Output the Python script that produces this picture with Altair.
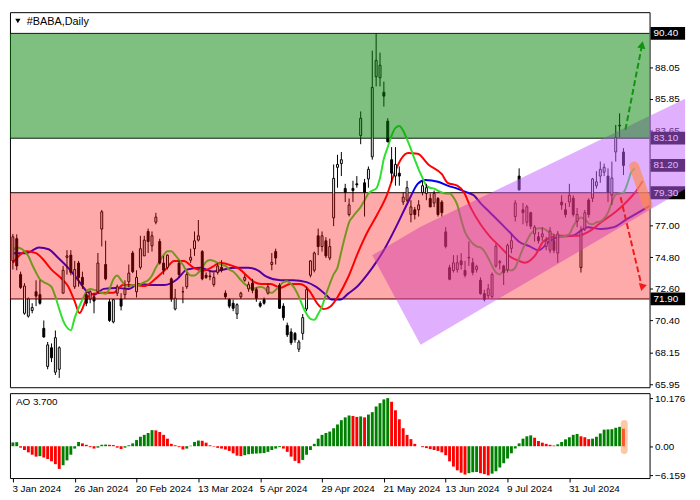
import altair as alt
import numpy as np
import pandas as pd

FONT = "Liberation Sans"

# ---------------- data ----------------
DATE_TICKS = [0, 16, 32, 48, 64, 80, 96, 112, 128, 144]
DATE_LABELS = ["3 Jan 2024", "26 Jan 2024", "20 Feb 2024", "13 Mar 2024", "5 Apr 2024",
               "29 Apr 2024", "21 May 2024", "13 Jun 2024", "9 Jul 2024", "31 Jul 2024"]

PRICE_TICKS = [65.95, 68.15, 70.40, 72.60, 74.80, 77.00, 81.45, 83.65, 85.85, 88.05]
ZONE_GREEN = [90.40, 83.10]
ZONE_RED = [79.30, 71.90]
LEVELS = [90.40, 83.10, 79.30, 71.90]
BOX_LEVELS = [90.40, 83.10, 81.20, 79.30, 71.90]

OPEN = [74.55, 76.1, 73.6, 70.9, 70.7, 71.1, 72.4, 72.2, 69.85, 67.2,
        68.5, 66.8, 67.0, 72.3, 74.8, 74.95, 72.75, 74.4, 73.4, 72.2,
        71.9, 72.05, 72.4, 76.77, 74.3, 71.7, 70.3, 72.3, 71.9, 72.2,
        73.1, 75.1, 72.4, 74.1, 74.9, 76.6, 75.6, 77.25, 75.9, 74.4,
        74.1, 73.3, 71.2, 74.4, 72.4, 72.75, 74.6, 75.4, 76.0, 75.2,
        73.55, 73.5, 72.9, 73.75, 74.1, 72.3, 71.85, 71.6, 70.85, 72.05,
        73.2, 72.6, 73.0, 72.55, 71.6, 71.85, 72.3, 74.3, 75.2, 72.85,
        71.4, 70.05, 69.6, 69.5, 68.4, 69.5, 71.2, 73.55, 73.9, 76.3,
        75.55, 75.95, 74.75, 77.55, 81.07, 81.33, 79.6, 77.78, 79.6, 79.92,
        83.28, 79.99, 80.26, 81.8, 87.38, 87.31, 86.3, 84.29, 81.6, 80.46,
        80.66, 78.65, 78.78, 77.78, 78.11, 78.11, 79.32, 79.25, 78.9, 78.58,
        78.9, 78.65, 76.57, 74.08, 73.88, 73.95, 74.55, 73.88, 74.75, 74.42,
        73.95, 73.2, 72.27, 72.13, 72.07, 74.2, 74.42, 74.2, 73.95, 75.42,
        77.64, 80.46, 78.11, 77.24, 77.91, 76.43, 76.23, 76.23, 75.56, 75.29,
        75.96, 75.09, 78.65, 78.11, 78.65, 78.92, 77.3, 74.08, 76.77, 78.78,
        78.92, 79.79, 80.46, 80.73, 80.46, 79.12, 82.14, 83.95, 82.14]
HIGH = [76.43, 76.4, 73.8, 73.0, 72.0, 71.6, 73.2, 73.2, 70.4, 68.9,
        68.8, 69.7, 68.6, 74.2, 75.3, 75.3, 74.55, 74.55, 73.8, 72.4,
        72.5, 72.3, 75.1, 78.1, 75.96, 71.9, 71.9, 72.9, 72.3, 73.2,
        74.3, 75.25, 73.9, 76.3, 76.3, 76.8, 76.6, 77.9, 76.1, 74.9,
        75.0, 73.4, 72.6, 74.6, 72.75, 73.75, 75.4, 76.6, 77.4, 75.3,
        73.75, 73.9, 73.75, 74.4, 74.6, 72.5, 71.95, 71.85, 71.6, 72.4,
        73.6, 73.1, 73.3, 72.7, 71.75, 72.0, 72.95, 75.1, 75.4, 73.0,
        71.6, 70.25, 69.85, 69.6, 69.05, 70.85, 72.75, 74.6, 75.2, 76.8,
        76.6, 76.2, 76.1, 81.27, 81.94, 82.14, 79.92, 78.9, 80.13, 80.46,
        84.96, 80.26, 81.13, 89.2, 90.4, 89.06, 87.04, 84.49, 82.48, 82.48,
        81.13, 79.32, 80.13, 78.78, 78.31, 78.78, 80.13, 79.92, 79.25, 79.45,
        79.0, 78.78, 76.9, 74.28, 74.95, 74.95, 75.09, 74.55, 75.9, 74.75,
        74.28, 73.4, 72.54, 72.94, 73.74, 75.76, 74.62, 74.28, 75.76, 76.43,
        78.78, 81.0, 78.58, 78.45, 77.98, 77.04, 76.57, 76.9, 76.23, 76.9,
        76.43, 76.63, 79.12, 78.58, 79.92, 79.12, 78.24, 76.97, 78.1, 78.92,
        80.33, 80.8, 81.47, 81.33, 81.0, 81.47, 84.02, 84.83, 82.41]
LOW = [73.95, 73.9, 72.6, 70.8, 70.6, 70.9, 71.4, 71.5, 69.2, 67.0,
       67.5, 66.6, 66.4, 72.3, 73.6, 73.55, 72.6, 72.75, 72.6, 71.4,
       71.6, 70.9, 72.3, 75.56, 73.2, 70.3, 70.2, 72.1, 71.1, 71.9,
       72.7, 73.7, 72.0, 73.95, 74.9, 75.1, 75.2, 77.1, 74.3, 73.6,
       73.95, 71.7, 71.1, 73.4, 71.6, 72.6, 74.4, 74.9, 75.9, 73.2,
       73.3, 73.2, 72.75, 73.6, 73.75, 71.9, 71.25, 71.05, 70.5, 71.9,
       73.1, 72.4, 72.3, 71.7, 71.3, 71.5, 72.2, 73.9, 74.3, 71.2,
       70.4, 69.25, 68.7, 68.85, 68.2, 69.05, 71.05, 73.4, 73.75, 74.95,
       75.2, 74.75, 74.6, 76.97, 79.65, 80.46, 78.65, 77.65, 78.65, 79.65,
       82.68, 77.64, 79.65, 81.6, 86.71, 86.71, 85.3, 82.81, 79.99, 79.79,
       79.79, 78.45, 78.65, 77.24, 77.44, 77.64, 79.12, 78.78, 78.3, 78.3,
       77.64, 77.64, 75.42, 73.2, 73.74, 73.74, 73.95, 73.4, 74.2, 73.55,
       73.74, 72.2, 71.73, 71.93, 71.93, 74.08, 73.95, 72.87, 73.74, 75.09,
       77.3, 79.45, 77.1, 76.97, 76.77, 75.9, 75.76, 75.96, 75.29, 75.09,
       75.09, 74.42, 78.11, 77.57, 78.31, 77.64, 76.9, 73.74, 76.63, 77.57,
       78.65, 79.59, 79.99, 80.46, 78.65, 78.45, 81.47, 83.15, 80.53]
CLOSE = [76.23, 74.2, 72.7, 72.8, 71.9, 71.3, 72.1, 71.6, 69.25, 68.7,
         67.8, 69.2, 68.5, 73.9, 74.9, 73.75, 73.95, 73.4, 72.9, 71.6,
         72.4, 71.75, 74.4, 77.97, 73.3, 70.4, 71.85, 72.75, 71.4, 72.6,
         73.7, 73.8, 73.4, 75.4, 76.0, 75.9, 76.3, 77.6, 74.4, 73.9,
         74.95, 71.9, 71.95, 73.6, 72.4, 73.6, 74.8, 75.95, 76.3, 73.3,
         73.4, 73.45, 73.4, 74.2, 73.9, 72.05, 71.4, 71.25, 71.5, 72.3,
         73.4, 72.9, 72.5, 71.95, 71.4, 71.6, 72.75, 74.45, 74.75, 71.25,
         70.6, 69.4, 68.85, 69.05, 68.9, 70.6, 72.55, 74.55, 75.1, 75.55,
         76.3, 74.9, 75.55, 80.3, 81.27, 81.6, 79.32, 78.45, 79.45, 79.85,
         84.49, 79.32, 80.93, 86.64, 88.52, 88.18, 86.03, 82.85, 80.66, 81.27,
         80.46, 78.99, 79.65, 78.31, 77.78, 78.45, 79.79, 79.65, 78.31, 79.25,
         77.78, 77.91, 75.56, 73.27, 74.42, 74.42, 74.28, 73.55, 74.8, 73.74,
         74.15, 72.27, 71.87, 72.6, 73.6, 75.56, 74.5, 73.74, 75.63, 75.96,
         78.58, 79.5, 77.91, 78.31, 76.97, 76.9, 75.96, 76.43, 75.96, 76.63,
         75.29, 76.43, 78.45, 77.78, 79.12, 77.78, 77.78, 76.63, 77.91, 77.78,
         80.26, 80.06, 80.93, 81.07, 79.32, 80.33, 83.15, 84.0, 81.2]

# Alligator lines (green = lips, red = teeth, blue = jaw), shifted past the last bar
LIPS = [75.29, 75.49, 75.42, 75.22, 74.89, 74.28, 73.74, 73.27, 73.07, 72.94,
        72.74, 72.06, 71.19, 70.39, 69.91, 69.71, 70.58, 71.26, 71.86, 72.40,
        72.60, 72.53, 72.47, 72.33, 72.26, 72.60, 73.27, 73.54, 73.21, 72.87,
        72.80, 72.87, 72.80, 72.94, 73.07, 73.21, 73.54, 74.08, 74.55, 74.95,
        75.22, 75.22, 74.95, 74.62, 74.28, 73.81, 73.54, 73.54, 73.74, 74.08,
        74.48, 74.62, 74.55, 74.41, 74.28, 74.21, 73.94, 73.81, 73.54, 73.21,
        72.94, 72.74, 72.60, 72.67, 72.74, 72.67, 72.40, 72.33, 72.53, 72.80,
        73.07, 73.14, 72.94, 72.60, 72.06, 71.39, 70.85, 70.52, 70.45, 70.85,
        71.39, 72.20, 72.94, 73.61, 74.08, 75.22, 76.30, 77.24, 77.64, 77.98,
        78.31, 78.78, 79.25, 79.45, 79.59, 80.33, 81.67, 82.47, 83.28, 83.82,
        83.95, 83.62, 83.01, 82.34, 81.60, 80.93, 80.33, 79.79, 79.65, 79.59,
        79.45, 79.32, 79.25, 79.25, 78.98, 78.45, 77.44, 76.56, 76.09, 75.76,
        75.56, 75.49, 75.22, 74.75, 74.21, 73.74, 73.61, 73.88, 73.94, 73.88,
        74.08, 74.75, 75.42, 75.96, 76.43, 76.70, 76.83, 76.83, 76.70, 76.50,
        76.36, 76.23, 76.23, 76.30, 76.43, 76.97, 77.37, 77.57, 77.44, 77.17,
        77.10, 77.24, 77.30, 77.51, 77.91, 78.65, 79.18, 79.25, 79.32, 79.92,
        80.73, 81.00]
TEETH_X = [0, 1.75, 3.5, 6, 7.5, 10, 12.5, 14.25, 16, 17.25, 19.25, 21, 23.5, 26, 28.5, 31,
           34.25, 36.75, 39.25, 41.75, 44.25, 46.75, 49.25, 51.75, 53.5, 56, 58.5, 61, 62.5,
           64.25, 66.75, 69.25, 71.75, 74.25, 76.75, 78.75, 80.5, 82.25, 84.25, 86.75, 89.25,
           91.75, 94.25, 96.75, 98.75, 100.5, 102.25, 104.75, 107.5, 111, 112.5, 115, 116.75,
           118.5, 121, 123.5, 126, 128.5, 131, 132.5, 135, 137.5, 141.75, 146, 149.25, 152.5,
           156, 158.5, 161, 163]
TEETH = [74.42, 74.95, 75.22, 75.09, 74.75, 73.94, 73.34, 72.80, 71.73, 70.92, 72.00, 72.27,
         72.33, 72.33, 72.87, 72.87, 72.80, 73.27, 73.88, 74.55, 74.55, 74.08, 73.88, 74.15,
         74.42, 74.28, 74.01, 73.41, 73.07, 72.94, 72.94, 72.67, 72.94, 72.94, 72.47, 71.59,
         71.19, 71.39, 72.13, 73.41, 75.09, 76.56, 77.77, 79.12, 80.66, 81.67, 82.07, 82.01,
         81.27, 80.59, 79.99, 79.79, 79.32, 78.24, 77.10, 76.23, 75.56, 74.88, 74.55, 74.42,
         74.88, 75.96, 76.30, 76.30, 76.63, 77.30, 77.97, 78.58, 79.32, 80.12]
JAW_X = [0, 3.5, 6.75, 9.25, 11.75, 14.25, 16.75, 19.25, 21, 23.5, 26.75, 30, 32.5, 36, 39.25,
         42.5, 45, 48.5, 51.75, 54.25, 57.5, 61, 63.5, 65.5, 69.25, 72.5, 76, 78.5, 81, 82.5,
         84.75, 86.75, 89.25, 91.75, 94.25, 96.25, 99.25, 102.5, 104.75, 106.75, 110, 112.5,
         115, 117.5, 119.25, 121, 123.5, 126, 128.5, 131, 133.75, 136, 138.75, 141.25, 144.75,
         148.75, 152.25, 155.5, 158.75, 162.25, 164.75]
JAW = [75.09, 75.09, 75.49, 75.36, 74.75, 74.08, 73.27, 72.40, 72.20, 72.60, 72.67, 72.60,
       72.94, 72.87, 72.87, 73.27, 73.94, 74.08, 73.81, 73.94, 74.08, 74.08, 73.88, 73.47,
       73.21, 73.21, 73.07, 72.74, 72.20, 71.86, 71.86, 72.27, 72.80, 73.61, 74.55, 75.42,
       76.97, 78.78, 79.92, 80.19, 80.06, 79.79, 79.59, 79.32, 79.12, 78.58, 77.91, 77.24,
       76.56, 75.89, 75.56, 75.29, 75.89, 76.23, 76.30, 76.90, 76.77, 76.90, 77.44, 77.98,
       78.38]

AO = [0.8, 0.85, -0.3, -0.8, -1.3, -1.8, -2.2, -2.1, -2.4, -2.7,
      -3.2, -3.8, -4.8, -4.0, -3.0, -1.8, -0.5, 0.9, 0.6, 0.3,
      -0.2, -0.5, -0.3, 0.3, 0.35, 0.3, 0.25, -0.3, -0.6, -0.3,
      0.2, 0.6, 1.3, 2.0, 2.4, 2.8, 3.4, 3.35, 3.0, 2.4,
      1.6, 0.5, 0.2, -0.2, -0.7, -0.5, 0.1, 0.9, 1.2, 1.15,
      0.75, 0.2, -0.1, -0.35, -0.5, -0.7, -1.0, -1.5, -2.0, -2.1,
      -1.9, -1.7, -1.6, -1.55, -1.5, -1.45, -1.2, -0.8, -0.5, -0.2,
      -0.5, -1.2, -2.2, -3.1, -3.6, -2.9, -1.8, -0.8, 0.5, 1.6,
      2.4, 2.8, 3.1, 3.8, 4.6, 5.5, 6.1, 6.5, 6.4, 6.2,
      6.3, 6.1, 6.7, 7.2, 8.4, 9.1, 9.9, 10.176, 9.4, 7.6,
      5.7, 3.8, 2.4, 1.5, 0.5, 0.0, -0.2, -0.4, -0.6, -0.8,
      -1.0, -1.3, -1.9, -3.2, -4.3, -5.1, -5.6, -6.0, -5.7, -5.5,
      -5.45, -5.7, -5.9, -6.159, -5.8, -5.3, -4.5, -3.6, -2.6, -1.5,
      -0.5, 0.6, 1.6, 2.1, 2.3, 1.8, 1.1, 0.75, 0.5, 0.3,
      0.15, 0.4, 0.9, 1.45, 1.9, 2.4, 2.6, 2.1, 1.9, 1.5,
      1.6, 2.0, 2.7, 3.5, 3.55, 3.6, 3.9, 4.1, 3.7]
AO_TICKS = [10.176, 0.0, -6.159]

# drawn objects (anchor points: bar index, price)
CHANNEL_A = (93.0, 74.95)
CHANNEL_B = (171.0, 87.31)
CHANNEL_D = (105.5, 68.71)
GREEN_ARROW = [(158.5, 83.69), (162.8, 89.6)]
RED_ARROW = [(157.25, 78.98), (162.8, 72.7)]
ORANGE_MARK = [(160.75, 81.13), (164.25, 78.45)]
AO_MARK = [(158.2, 4.8), (158.2, -0.9)]

# ---------------- layout ----------------
W, H_MAIN, H_AO = 648, 380, 86
RIGHT_BAND = 36
X_MIN, X_MAX = -0.75, 164.75
X_VIS = X_MAX + (X_MAX - X_MIN) * RIGHT_BAND / W
P_MIN, P_MAX = 65.749, 91.879
AO_MIN, AO_MAX = -6.73, 11.22

xs = alt.Scale(domain=[X_MIN, X_MAX], nice=False, zero=False)
ys = alt.Scale(domain=[P_MIN, P_MAX], nice=False, zero=False)
aos = alt.Scale(domain=[AO_MIN, AO_MAX], nice=False, zero=False)

price_axis = alt.Axis(orient="right", values=PRICE_TICKS, format=".2f", tickSize=3,
                      tickColor="black", labelColor="black", labelFont=FONT,
                      labelFontSize=10, labelPadding=2, grid=False, title=None,
                      domain=False, labelOverlap=False, labelFlush=False)


def X(f):
    return alt.X(f, type="quantitative", scale=xs, axis=None)


def Y(f):
    return alt.Y(f, type="quantitative", scale=ys, axis=price_axis)


n = len(OPEN)
candles = pd.DataFrame({"i": range(n), "open": OPEN, "high": HIGH, "low": LOW, "close": CLOSE})
candles["lo"] = candles[["open", "close"]].min(axis=1)
candles["hi"] = candles[["open", "close"]].max(axis=1)
candles["up"] = candles["close"] >= candles["open"]
candles["x0"] = candles["i"] - 0.25
candles["x1"] = candles["i"] + 0.25

levels = alt.Chart(pd.DataFrame({"v": LEVELS})).mark_rule(
    color="black", strokeWidth=1).encode(y=Y("v"))

lips = alt.Chart(pd.DataFrame({"i": range(len(LIPS)), "v": LIPS})).mark_line(
    color="#2fe02f", strokeWidth=2, interpolate="monotone").encode(x=X("i"), y=Y("v"))
teeth = alt.Chart(pd.DataFrame({"i": TEETH_X, "v": TEETH})).mark_line(
    color="#ff0000", strokeWidth=2, interpolate="monotone").encode(x=X("i"), y=Y("v"))
jaw = alt.Chart(pd.DataFrame({"i": JAW_X, "v": JAW})).mark_line(
    color="#0000f0", strokeWidth=2, interpolate="monotone").encode(x=X("i"), y=Y("v"))

wicks = alt.Chart(candles).mark_rule(color="black", strokeWidth=1).encode(
    x=X("i"), y=Y("low"), y2="high")
bodies = alt.Chart(candles).mark_rect(stroke="black", strokeWidth=1).encode(
    x=X("x0"), x2="x1", y=Y("lo"), y2="hi",
    fill=alt.condition("datum.up", alt.value("white"), alt.value("black")))

# price boxes on the right scale
box_df = pd.DataFrame({"v": BOX_LEVELS, "lab": [f"{v:.2f}" for v in BOX_LEVELS]})
boxes = alt.Chart(box_df).mark_rule(color="black", strokeWidth=13, strokeCap="butt").encode(
    x=alt.value(W + 1), x2=alt.value(W + RIGHT_BAND), y=Y("v"))
box_text = alt.Chart(box_df).mark_text(color="white", align="left", baseline="middle",
                                       font=FONT, fontSize=10).encode(
    x=alt.value(W + 4), y=Y("v"), text="lab:N")

# channel (rotated rectangle from three anchors), cut at the window edge
Ax, Ay = CHANNEL_A
Bx, By = CHANNEL_B
Dx, Dy = CHANNEL_D
Cx, Cy = Bx + Dx - Ax, By + Dy - Ay
cx = np.array([Ax, Dx, X_VIS])
upper = np.interp(cx, [Ax, Bx, Cx], [Ay, By, Cy])
lower = np.interp(cx, [Ax, Dx, Cx], [Ay, Dy, Cy])
channel = alt.Chart(pd.DataFrame({"x": cx, "top": upper, "bot": lower})).mark_area(
    color="#c161ff", opacity=0.5).encode(x=X("x"), y=Y("top"), y2="bot")

zone_g = alt.Chart(pd.DataFrame({"a": [X_MIN], "b": [X_MAX], "t": [ZONE_GREEN[0]], "u": [ZONE_GREEN[1]]})).mark_rect(
    color="#008000", opacity=0.5).encode(x=X("a"), x2="b", y=Y("t"), y2="u")
zone_r = alt.Chart(pd.DataFrame({"a": [X_MIN], "b": [X_MAX], "t": [ZONE_RED[0]], "u": [ZONE_RED[1]]})).mark_rect(
    color="#ff0000", opacity=0.333).encode(x=X("a"), x2="b", y=Y("t"), y2="u")


def arrow(points, color, angle, shape):
    df = pd.DataFrame({"x": [p[0] for p in points], "y": [p[1] for p in points]})
    line = alt.Chart(df).mark_line(color=color, strokeWidth=2, strokeDash=[6, 3]).encode(
        x=X("x"), y=Y("y"))
    head = alt.Chart(df.tail(1)).mark_point(shape=shape, filled=True, color=color, opacity=1,
                                            size=70, angle=angle).encode(x=X("x"), y=Y("y"))
    return line + head


g_arrow = arrow(GREEN_ARROW, "#129212", 11, "triangle-up")
r_arrow = arrow(RED_ARROW, "#ee1c1c", 13, "triangle-down")

orange = alt.Chart(pd.DataFrame({"x": [p[0] for p in ORANGE_MARK], "y": [p[1] for p in ORANGE_MARK]})).mark_line(
    color="#ff8a4a", strokeWidth=10, strokeCap="round", opacity=0.65).encode(x=X("x"), y=Y("y"))

title_tri = alt.Chart(pd.DataFrame({"a": [0]})).mark_point(
    shape="triangle-down", filled=True, color="black", size=28, opacity=1).encode(
    x=alt.value(8), y=alt.value(9))
title_txt = alt.Chart(pd.DataFrame({"t": ["#BABA,Daily"]})).mark_text(
    align="left", baseline="middle", font=FONT, fontSize=11, color="black").encode(
    x=alt.value(17), y=alt.value(10), text="t:N")

main = alt.layer(levels, jaw, teeth, lips, wicks, bodies, boxes, box_text, channel,
                 zone_g, zone_r, g_arrow, r_arrow, orange, title_tri, title_txt).properties(
    width=W, height=H_MAIN)

# ---------------- AO panel ----------------
ao_df = pd.DataFrame({"i": range(len(AO)), "ao": AO})
ao_df["up"] = ao_df["ao"].diff().fillna(1) > 0
ao_df["x0"] = ao_df["i"] - 0.375
ao_df["x1"] = ao_df["i"] + 0.375
ao_df["zero"] = 0.0

label_expr = ("[" + ",".join(f"'{s}'" for s in DATE_LABELS) + "][indexof(["
              + ",".join(str(t) for t in DATE_TICKS) + "], datum.value)]")
date_axis = alt.Axis(values=DATE_TICKS, labelExpr=label_expr, tickSize=4, tickColor="black",
                     labelAlign="left", labelPadding=2, labelOffset=-1, labelFont=FONT,
                     labelFontSize=10, labelColor="black", grid=False, title=None,
                     domain=False, labelOverlap=False, labelFlush=False, labelBound=False)
ao_axis = alt.Axis(orient="right", values=AO_TICKS,
                   labelExpr="datum.value == 0 ? '0.00' : format(datum.value, '.3f')",
                   tickSize=3, tickColor="black", labelFont=FONT, labelFontSize=10,
                   labelColor="black", labelPadding=2, grid=False, title=None, domain=False,
                   labelOverlap=False, labelFlush=False)

AX = alt.X("x0:Q", scale=xs, axis=date_axis)
AY = alt.Y("ao:Q", scale=aos, axis=ao_axis)

ao_bars = alt.Chart(ao_df).mark_rect().encode(
    x=AX, x2="x1", y=AY, y2="zero",
    color=alt.condition("datum.up", alt.value("#008000"), alt.value("#ff0000")))

ao_mark_df = pd.DataFrame({"x0": [p[0] for p in AO_MARK], "ao": [p[1] for p in AO_MARK]})
ao_mark = alt.Chart(ao_mark_df).mark_line(
    color="#ff9a5a", strokeWidth=7, strokeCap="round", opacity=0.55).encode(x=AX, y=AY)

ao_label = alt.Chart(pd.DataFrame({"t": [f"AO {AO[-1]:.3f}"]})).mark_text(
    align="left", baseline="middle", font=FONT, fontSize=10, color="black").encode(
    x=alt.value(6), y=alt.value(9), text="t:N")

ao_panel = alt.layer(ao_bars, ao_mark, ao_label).properties(width=W, height=H_AO)

chart = alt.vconcat(main, ao_panel, spacing=2).properties(
    padding=0,
    background="white",
).configure_view(stroke="black", strokeWidth=1)

chart.save("out.html", embed_options={"renderer": "svg", "actions": False})
